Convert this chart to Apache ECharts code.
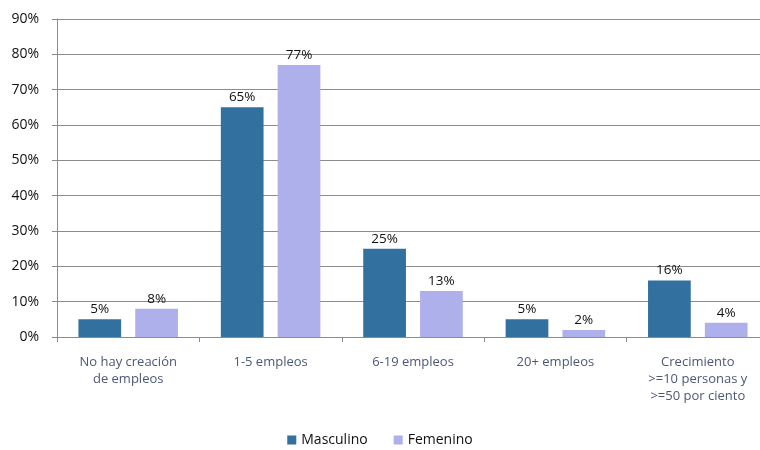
<!DOCTYPE html>
<html>
<head>
<meta charset="utf-8">
<script src="https://cdn.jsdelivr.net/npm/echarts@6/dist/echarts.min.js"></script>
<style>
  html, body { margin: 0; padding: 0; background: #fff; }
  #chart { width: 760px; height: 450px; }
</style>
</head>
<body>
<div id="chart"></div>
<script>
// Job creation categories and share of businesses by owner gender (%)
const categories = [
  'No hay creación\nde empleos',
  '1-5 empleos',
  '6-19 empleos',
  '20+ empleos',
  'Crecimiento\n>=10 personas y\n>=50 por ciento'
];
const masculino = [5, 65, 25, 5, 16];
const femenino = [8, 77, 13, 2, 4];
const yTicks = [0, 10, 20, 30, 40, 50, 60, 70, 80, 90];

const FONT = '"Open Sans", "Liberation Sans", sans-serif';

const chart = echarts.init(document.getElementById('chart'), null, { renderer: 'canvas' });

const labelOpt = {
  show: true,
  position: 'top',
  distance: 3,
  color: '#111',
  fontSize: 13.5,
  fontFamily: FONT,
  formatter: p => p.value + '%'
};

chart.setOption({
  animation: false,
  // plot area runs slightly past the right edge of the canvas
  grid: {
    left: 57, width: 712, top: 19, bottom: 113,
    containLabel: false,
    outerBoundsMode: 'none'
  },
  legend: {
    bottom: -2,
    left: 'center',
    itemWidth: 9,
    itemHeight: 9,
    itemGap: 26,
    icon: 'rect',
    textStyle: { fontSize: 14, color: '#111', fontFamily: FONT },
    data: ['Masculino', 'Femenino']
  },
  xAxis: {
    type: 'category',
    data: categories,
    axisLine: { lineStyle: { color: '#8c8c8c', width: 1 } },
    axisTick: { show: true, length: 5, lineStyle: { color: '#8c8c8c' } },
    axisLabel: {
      color: '#4b5878',
      fontSize: 13,
      fontFamily: FONT,
      margin: 17,
      lineHeight: 17,
      interval: 0
    }
  },
  yAxis: {
    type: 'value',
    min: yTicks[0],
    max: yTicks[yTicks.length - 1],
    interval: 10,
    axisLine: { show: true, lineStyle: { color: '#8c8c8c' } },
    axisTick: { show: true, length: 5, lineStyle: { color: '#8c8c8c' } },
    splitLine: { show: true, lineStyle: { color: '#8c8c8c', width: 1 } },
    axisLabel: {
      color: '#111',
      fontSize: 14,
      fontFamily: FONT,
      margin: 18,
      formatter: v => v + '%'
    }
  },
  series: [
    {
      name: 'Masculino',
      type: 'bar',
      data: masculino,
      barWidth: '30%',
      barGap: '33%',
      itemStyle: { color: '#3270a0' },
      label: labelOpt
    },
    {
      name: 'Femenino',
      type: 'bar',
      data: femenino,
      barWidth: '30%',
      itemStyle: { color: '#aeb0ec' },
      label: labelOpt
    }
  ]
});
</script>
</body>
</html>
